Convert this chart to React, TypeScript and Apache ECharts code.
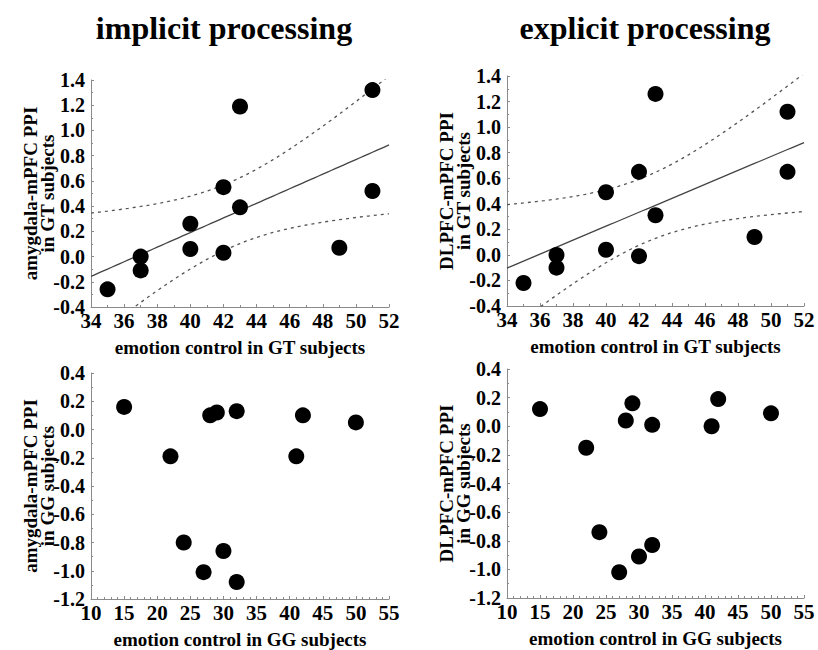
import React, { useEffect, useRef } from "react";
import * as echarts from "echarts";

// Top panels: GT subjects (emotion control vs PPI)
const gtEmotion = [35, 37, 37, 40, 40, 42, 42, 43, 43, 49, 51, 51];
const gtImplicitPPI = [-0.26, 0.0, -0.11, 0.26, 0.06, 0.55, 0.03, 1.19, 0.39, 0.07, 1.32, 0.52];
const gtExplicitPPI = [-0.22, 0.0, -0.10, 0.49, 0.04, 0.65, -0.01, 1.26, 0.31, 0.14, 1.12, 0.65];

// Bottom panels: GG subjects
const ggImplicitEmotion = [15, 22, 24, 27, 28, 29, 30, 32, 32, 41, 42, 50];
const ggImplicitPPI = [0.16, -0.19, -0.80, -1.01, 0.10, 0.12, -0.86, 0.13, -1.08, -0.19, 0.10, 0.05];
const ggExplicitEmotion = [15, 22, 24, 27, 28, 29, 30, 32, 32, 41, 42, 50];
const ggExplicitPPI = [0.12, -0.15, -0.74, -1.02, 0.04, 0.16, -0.91, 0.01, -0.83, 0.0, 0.19, 0.09];

const titles = ["implicit processing", "explicit processing"];
const xNames = ["emotion control in GT subjects", "emotion control in GG subjects"];
const yNames = [
  "amygdala-mPFC PPI\nin GT subjects",
  "DLPFC-mPFC PPI\nin GT subjects",
  "amygdala-mPFC PPI\nin GG subjects",
  "DLPFC-mPFC PPI\nin GG subjects",
];
const T_CRIT = 2.228; // t(0.975, df = 10)

function fit(xs: number[], ys: number[], x0: number, x1: number, step: number) {
  const n = xs.length;
  const mx = xs.reduce((a, b) => a + b, 0) / n;
  const my = ys.reduce((a, b) => a + b, 0) / n;
  let sxx = 0, sxy = 0;
  for (let i = 0; i < n; i++) {
    sxx += (xs[i] - mx) ** 2;
    sxy += (xs[i] - mx) * (ys[i] - my);
  }
  const b = sxy / sxx;
  const a = my - b * mx;
  let rss = 0;
  for (let i = 0; i < n; i++) rss += (ys[i] - (a + b * xs[i])) ** 2;
  const s = Math.sqrt(rss / (n - 2));
  const line: number[][] = [];
  const up: number[][] = [];
  const lo: number[][] = [];
  for (let x = x0; x <= x1 + 1e-9; x += step) {
    const yh = a + b * x;
    const h = T_CRIT * s * Math.sqrt(1 / n + (x - mx) ** 2 / sxx);
    line.push([x, yh]);
    up.push([x, yh + h]);
    lo.push([x, yh - h]);
  }
  return { line, up, lo };
}

const FONT = "Liberation Serif";
const AXIS_COLOR = "#8a8a8a";

export default function App() {
  const ref = useRef<HTMLDivElement>(null);
  useEffect(() => {
    if (!ref.current) return;
    const chart = echarts.init(ref.current, undefined, { renderer: "svg" });

    const grids = [
      { left: 91, top: 80, width: 298, height: 227 },
      { left: 507, top: 76, width: 297, height: 230 },
      { left: 91, top: 373, width: 298, height: 228 },
      { left: 507, top: 369, width: 297, height: 229 },
    ];

    const xAxes = grids.map((_, i) => {
      const top = i < 2;
      return {
        gridIndex: i,
        type: "value",
        min: top ? 34 : 10,
        max: top ? 52 : 55,
        interval: top ? 2 : 5,
        name: top ? xNames[0] : xNames[1],
        nameLocation: "middle",
        nameGap: 31,
        nameMoveOverlap: false,
        nameTextStyle: { fontFamily: FONT, fontWeight: "bold", fontSize: 19, color: "#000" },
        axisLine: { show: true, onZero: false, lineStyle: { color: AXIS_COLOR, width: 1 } },
        axisTick: { show: true, inside: true, length: 3, lineStyle: { color: AXIS_COLOR } },
        minorTick: { show: true, splitNumber: top ? 2 : 5, length: 2, lineStyle: { color: AXIS_COLOR } },
        splitLine: { show: false },
        axisLabel: {
          margin: 6,
          showMinLabel: true,
          showMaxLabel: true,
          formatter: (v: number) => `{t|${v}}`,
          rich: { t: { fontFamily: FONT, fontWeight: "bold", fontSize: 21, lineHeight: 16, color: "#000" } },
        },
      };
    });

    const yAxes = grids.map((_, i) => {
      const top = i < 2;
      return {
        gridIndex: i,
        type: "value",
        min: top ? -0.4 : -1.2,
        max: top ? 1.4 : 0.4,
        interval: 0.2,
        name: yNames[i],
        nameLocation: "middle",
        nameRotate: 90,
        nameGap: 35,
        nameMoveOverlap: false,
        nameTextStyle: { fontFamily: FONT, fontWeight: "bold", fontSize: 19, lineHeight: 17, color: "#000" },
        axisLine: { show: true, onZero: false, lineStyle: { color: AXIS_COLOR, width: 1 } },
        axisTick: { show: true, inside: true, length: 3, lineStyle: { color: AXIS_COLOR } },
        minorTick: { show: true, splitNumber: 2, length: 2, lineStyle: { color: AXIS_COLOR } },
        splitLine: { show: false },
        axisLabel: {
          margin: 6,
          formatter: (v: number) => `{t|${Math.abs(v) < 1e-9 ? "0.0" : v.toFixed(1)}}`,
          rich: { t: { fontFamily: FONT, fontWeight: "bold", fontSize: 20, lineHeight: 14, color: "#000" } },
        },
      };
    });

    const f1 = fit(gtEmotion, gtImplicitPPI, 34, 52, 0.25);
    const f2 = fit(gtEmotion, gtExplicitPPI, 34, 52, 0.25);

    const scatter = (i: number, xs: number[], ys: number[]) => ({
      type: "scatter",
      xAxisIndex: i,
      yAxisIndex: i,
      symbol: "circle",
      symbolSize: 16,
      itemStyle: { color: "#000", opacity: 1 },
      data: xs.map((x, k) => [x, ys[k]]),
      z: 5,
    });
    const lineS = (i: number, data: number[][], dashed: boolean) => ({
      type: "line",
      xAxisIndex: i,
      yAxisIndex: i,
      showSymbol: false,
      symbol: "none",
      clip: true,
      smooth: false,
      lineStyle: dashed
        ? { color: "#555", width: 1.3, type: [3, 4] }
        : { color: "#444", width: 1.3, type: "solid" },
      data,
      z: 3,
    });

    const titleStyle = (text: string) => ({
      text, fontFamily: FONT, fontWeight: "bold", fontSize: 32, fill: "#000",
      textAlign: "center", textVerticalAlign: "middle",
    });

    chart.setOption({
      animation: false,
      backgroundColor: "#fff",
      textStyle: { fontFamily: FONT, fontWeight: "bold", color: "#000" },
      graphic: [
        { type: "text", x: 224, y: 28, style: titleStyle(titles[0]) },
        { type: "text", x: 645, y: 28, style: titleStyle(titles[1]) },
      ],
      grid: grids,
      xAxis: xAxes,
      yAxis: yAxes,
      series: [
        lineS(0, f1.line, false),
        lineS(0, f1.up, true),
        lineS(0, f1.lo, true),
        scatter(0, gtEmotion, gtImplicitPPI),
        lineS(1, f2.line, false),
        lineS(1, f2.up, true),
        lineS(1, f2.lo, true),
        scatter(1, gtEmotion, gtExplicitPPI),
        scatter(2, ggImplicitEmotion, ggImplicitPPI),
        scatter(3, ggExplicitEmotion, ggExplicitPPI),
      ],
    });
    return () => chart.dispose();
  }, []);
  return (
    <div
      ref={ref}
      style={{ position: "fixed", left: 0, top: 0, width: 818, height: 650, background: "#fff" }}
    />
  );
}
